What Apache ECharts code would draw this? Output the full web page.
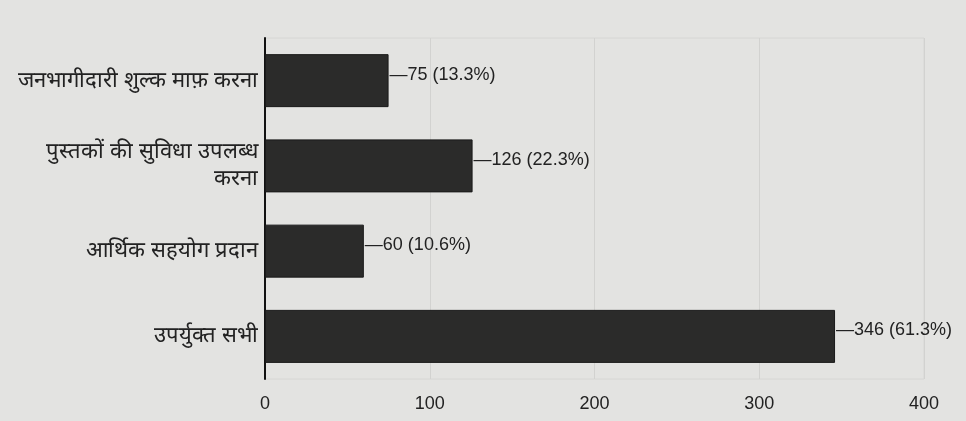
<!DOCTYPE html>
<html>
<head>
<meta charset="utf-8">
<script src="https://cdn.jsdelivr.net/npm/echarts@6/dist/echarts.min.js"></script>
<style>
  html, body { margin: 0; padding: 0; background: #e3e3e1; }
  #chart { width: 966px; height: 421px; }
</style>
</head>
<body>
<div id="chart"></div>
<script>
// categories, top to bottom
const categories = [
  "जनभागीदारी शुल्क माफ़ करना",
  "पुस्तकों की सुविधा उपलब्ध\nकरना",
  "आर्थिक सहयोग प्रदान",
  "उपर्युक्त सभी"
];
const counts = [75, 126, 60, 346];
const percents = [13.3, 22.3, 10.6, 61.3];
const xTicks = [0, 100, 200, 300, 400];

const myChart = echarts.init(document.getElementById("chart"));
myChart.setOption({
  backgroundColor: "#e3e3e1",
  animation: false,
  grid: {
    left: 265,
    right: 42,
    top: 38,
    bottom: 42,
    show: true,
    borderColor: "#d6d6d4",
    borderWidth: 1
  },
  xAxis: {
    type: "value",
    min: xTicks[0],
    max: xTicks[xTicks.length - 1],
    interval: 100,
    axisLine: { show: false },
    axisTick: { show: false },
    splitLine: { lineStyle: { color: "#d2d2d0", width: 1 } },
    axisLabel: {
      color: "#222",
      fontSize: 18,
      fontFamily: "Liberation Sans, Arial",
      margin: 16
    }
  },
  yAxis: {
    type: "category",
    data: categories,
    inverse: true,
    axisLine: { show: true, lineStyle: { color: "#111", width: 2 } },
    axisTick: { show: false },
    axisLabel: {
      color: "#222",
      fontSize: 22,
      lineHeight: 27,
      margin: 7,
      align: "right"
    }
  },
  series: [
    {
      type: "bar",
      data: counts,
      barWidth: 53,
      itemStyle: { color: "#2b2b2a", borderColor: "#1a1a1a", borderWidth: 1 },
      label: {
        show: true,
        position: "right",
        distance: 1,
        offset: [0, -6],
        color: "#222",
        fontSize: 18,
        fontFamily: "Liberation Sans, Arial",
        formatter: (p) => "—" + counts[p.dataIndex] + " (" + percents[p.dataIndex] + "%)"
      }
    }
  ]
});
</script>
</body>
</html>
